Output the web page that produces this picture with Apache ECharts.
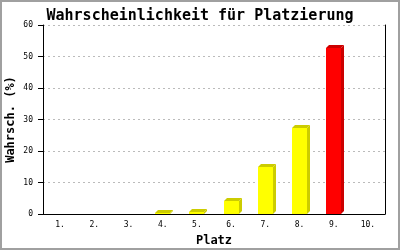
<!DOCTYPE html>
<html>
<head>
<meta charset="utf-8">
<script src="https://cdn.jsdelivr.net/npm/echarts@6/dist/echarts.min.js"></script>
<style>
html,body{margin:0;padding:0;background:#fff;}
#c{width:400px;height:250px;}
</style>
</head>
<body>
<div id="c"></div>
<script>
const titleText = 'Wahrscheinlichkeit für Platzierung';
const categories = ['1.', '2.', '3.', '4.', '5.', '6.', '7.', '8.', '9.', '10.'];
const values = [0, 0, 0, 0.2, 0.6, 4.2, 15.0, 27.4, 52.6, 0];
const yTicks = [0, 10, 20, 30, 40, 50, 60];
const xName = 'Platz';
const yName = 'Wahrsch. (%)';
const highlightCategory = '9.';

const chart = echarts.init(document.getElementById('c'), null, {renderer: 'canvas'});
const mono = 'DejaVu Sans Mono';

function renderItem(params, api) {
  const idx = api.value(0);
  const v = api.value(1);
  if (!(v > 0)) return null;
  const top = api.coord([idx, v]);
  const base = api.coord([idx, 0]);
  const w = Math.round(api.size([1, 0])[0] * 0.44);
  const x0 = Math.round(top[0] - w / 2);
  const x1 = x0 + w;
  const yT = Math.round(top[1]);
  const yB = Math.round(base[1]);
  const d = 3;
  const isHi = categories[idx] === highlightCategory;
  const front = isHi ? '#ff0000' : '#ffff00';
  const dark = isHi ? '#cc0000' : '#cccc00';
  return {
    type: 'group',
    children: [
      {type: 'polygon', shape: {points: [[x1, yT], [x1 + d, yT - d], [x1 + d, yB - d], [x1, yB]]}, style: {fill: dark}},
      {type: 'polygon', shape: {points: [[x0, yT], [x0 + d, yT - d], [x1 + d, yT - d], [x1, yT]]}, style: {fill: dark}},
      {type: 'rect', shape: {x: x0, y: yT, width: w, height: yB - yT}, style: {fill: front}}
    ]
  };
}

chart.setOption({
  animation: false,
  backgroundColor: '#ffffff',
  title: {
    text: titleText,
    left: 'center',
    top: 4,
    textStyle: {fontFamily: mono, fontWeight: 'bold', fontSize: 15, color: '#000'}
  },
  grid: {left: 43, right: 15, top: 25, bottom: 36, containLabel: false, outerBoundsMode: 'none'},
  xAxis: {
    type: 'category',
    data: categories,
    boundaryGap: true,
    name: xName,
    nameLocation: 'middle',
    nameGap: 21,
    nameMoveOverlap: false,
    nameTextStyle: {fontFamily: mono, fontWeight: 'bold', fontSize: 12, color: '#000'},
    axisLine: {show: true, lineStyle: {color: '#000', width: 1}},
    axisTick: {show: false},
    axisLabel: {fontFamily: mono, fontSize: 8, color: '#000', margin: 7},
    splitLine: {show: false}
  },
  yAxis: [{
    type: 'value',
    min: yTicks[0],
    max: yTicks[yTicks.length - 1],
    interval: yTicks[1] - yTicks[0],
    name: yName,
    nameLocation: 'middle',
    nameGap: 26,
    nameMoveOverlap: false,
    nameTextStyle: {fontFamily: mono, fontWeight: 'bold', fontSize: 12, color: '#000'},
    axisLine: {show: true, lineStyle: {color: '#000', width: 1}},
    axisTick: {show: true, length: 5, lineStyle: {color: '#000'}},
    axisLabel: {fontFamily: mono, fontSize: 8, color: '#000', margin: 10},
    splitLine: {show: true, lineStyle: {color: '#bbbbbb', width: 1, type: [2, 3]}}
  }, {
    type: 'value',
    position: 'right',
    min: yTicks[0],
    max: yTicks[yTicks.length - 1],
    interval: yTicks[1] - yTicks[0],
    axisLine: {show: true, lineStyle: {color: '#000', width: 1}},
    axisTick: {show: false},
    axisLabel: {show: false},
    splitLine: {show: false}
  }],
  graphic: [{
    type: 'rect',
    shape: {x: 1, y: 1, width: 398, height: 248},
    style: {fill: null, stroke: '#a0a0a0', lineWidth: 2},
    z: 100
  }],
  series: [{
    type: 'custom',
    renderItem: renderItem,
    encode: {x: 0, y: 1},
    data: values.map((v, i) => [i, v])
  }]
});
</script>
</body>
</html>
